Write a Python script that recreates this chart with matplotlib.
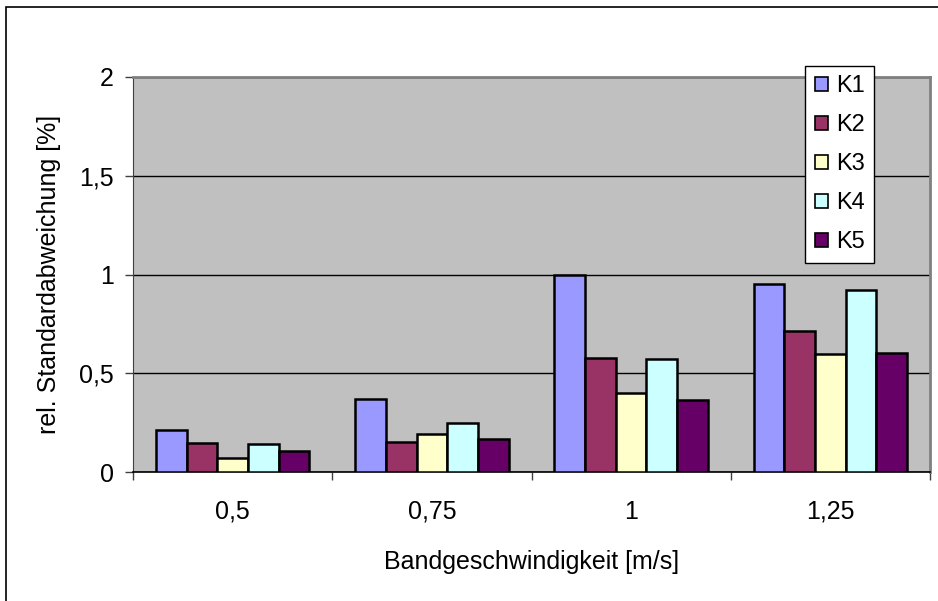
import matplotlib
matplotlib.use("Agg")
import matplotlib.pyplot as plt
from matplotlib.patches import Rectangle
import numpy as np

# data
speeds = ["0,5", "0,75", "1", "1,25"]
series = ["K1", "K2", "K3", "K4", "K5"]
k1 = [0.215, 0.371, 0.996, 0.953]
k2 = [0.145, 0.150, 0.576, 0.714]
k3 = [0.070, 0.192, 0.402, 0.596]
k4 = [0.140, 0.248, 0.572, 0.923]
k5 = [0.106, 0.166, 0.365, 0.601]
values = [k1, k2, k3, k4, k5]
colors = ["#9999FF", "#993366", "#FFFFCC", "#CCFFFF", "#660066"]
yticks = [0, 0.5, 1, 1.5, 2]
ytick_labels = ["0", "0,5", "1", "1,5", "2"]

plt.rcParams["font.family"] = ["Liberation Sans", "DejaVu Sans"]

W, H = 938, 601
fig = plt.figure(figsize=(W / 100, H / 100), dpi=100)
ax = fig.add_axes([133 / W, 1 - 472 / H, (930 - 133) / W, (472 - 77) / H])
ax.set_facecolor("#C0C0C0")

x = np.arange(len(speeds))
w = 1 / 6.5
for i, (name, vals, c) in enumerate(zip(series, values, colors)):
    ax.bar(x + (i - 2) * w, vals, width=w, color=c, edgecolor="black",
           linewidth=1.8, label=name, zorder=3)

ax.set_xlim(-0.5, len(speeds) - 0.5)
ax.set_ylim(0, 2)
ax.set_yticks(yticks)
ax.set_yticklabels(ytick_labels)
ax.yaxis.grid(True, color="black", linewidth=1.0, zorder=1)
ax.set_axisbelow(True)

# category ticks sit between groups, labels centred under the groups
ax.set_xticks(np.arange(-0.5, len(speeds) + 0.5, 1.0))
ax.set_xticklabels([])
ax.set_xticks(x, minor=True)
ax.set_xticklabels(speeds, minor=True)
ax.tick_params(axis="x", which="minor", length=0, pad=20, labelsize=18)
ax.tick_params(axis="x", which="major", length=6, width=1, color="#404040")
ax.tick_params(axis="y", length=6, width=1, pad=8, labelsize=18, color="#404040")

for side in ["top", "right"]:
    ax.spines[side].set_color("#808080")
    ax.spines[side].set_linewidth(2)
ax.spines["left"].set_color("#404040")
ax.spines["bottom"].set_color("black")
ax.spines["bottom"].set_linewidth(1.2)

ax.set_xlabel("Bandgeschwindigkeit [m/s]", fontsize=18, va="center")
ax.xaxis.set_label_coords(0.5, -0.228)
ax.set_ylabel("rel. Standardabweichung [%]", fontsize=18, va="center")
ax.yaxis.set_label_coords(-0.106, 0.5)

leg = ax.legend(loc="upper right", bbox_to_anchor=(874 / W, 1 - 66 / H),
                bbox_transform=fig.transFigure, borderaxespad=0,
                fontsize=17, frameon=True, fancybox=False,
                handlelength=0.55, handleheight=0.55, handletextpad=0.35,
                labelspacing=0.72, borderpad=0.4)
leg.get_frame().set_edgecolor("black")
leg.get_frame().set_linewidth(1.0)
leg.get_frame().set_alpha(1)
for h in leg.legend_handles:
    h.set_linewidth(1.2)

# outer chart frame (only top and left visible in the reference)
fig.add_artist(Rectangle((6 / W, -0.05), 1.2, 0.05 + (H - 7) / H,
                         transform=fig.transFigure, fill=False,
                         edgecolor="black", linewidth=1.2, clip_on=False))

fig.savefig("out.png", dpi=100)
